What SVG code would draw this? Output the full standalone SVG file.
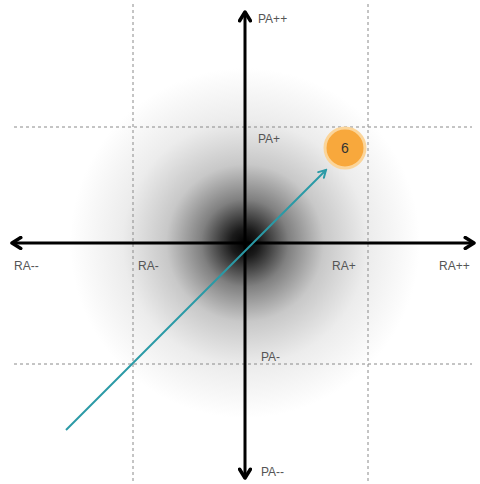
<svg xmlns="http://www.w3.org/2000/svg" width="480" height="484" viewBox="0 0 480 484">
<defs>
<radialGradient id="blur" cx="245" cy="243" r="175" gradientUnits="userSpaceOnUse">
<stop offset="0" stop-color="#000"/>
<stop offset="0.08" stop-color="#1a1a1a"/>
<stop offset="0.25" stop-color="#808080"/>
<stop offset="0.45" stop-color="#c8c8c8"/>
<stop offset="0.7" stop-color="#ececec"/>
<stop offset="1" stop-color="#fff"/>
</radialGradient>
<marker id="ah" viewBox="0 0 10 10" refX="8" refY="5" markerWidth="4.5" markerHeight="4.5" orient="auto-start-reverse" markerUnits="strokeWidth">
<path d="M1.5,1 L8,5 L1.5,9" fill="none" stroke="#000" stroke-width="2.6" stroke-linecap="round" stroke-linejoin="round"/>
</marker>
<marker id="ta" viewBox="0 0 10 10" refX="8" refY="5" markerWidth="5" markerHeight="5" orient="auto" markerUnits="strokeWidth">
<path d="M1,1 L8,5 L1,9" fill="none" stroke="#2a9aa6" stroke-width="2" stroke-linecap="round"/>
</marker>
<style>
.grid{stroke:#8a8a8a;stroke-width:1;stroke-dasharray:3 3;fill:none}
.axis{stroke:#000;stroke-width:3;fill:none}
.lbl{font-family:"Liberation Sans",Arial,sans-serif;font-size:12px;fill:#555}
</style>
</defs>
<rect width="480" height="484" fill="#fff"/>
<rect x="60" y="60" width="370" height="370" fill="url(#blur)"/>
<g id="grid">
<line class="grid" x1="133" y1="4" x2="133" y2="482"/>
<line class="grid" x1="368" y1="4" x2="368" y2="482"/>
<line class="grid" x1="14" y1="127" x2="472" y2="127"/>
<line class="grid" x1="14" y1="364" x2="472" y2="364"/>
</g>
<g id="connectors">
<line class="axis" x1="245" y1="12" x2="245" y2="478" marker-start="url(#ah)" marker-end="url(#ah)"/>
<line class="axis" x1="12" y1="243" x2="474" y2="243" marker-start="url(#ah)" marker-end="url(#ah)"/>
<line x1="66" y1="430" x2="326" y2="170" stroke="#2a9aa6" stroke-width="2" marker-end="url(#ta)"/>
</g>
<g id="labels">
<text class="lbl" x="258" y="23">PA++</text>
<text class="lbl" x="258" y="143">PA+</text>
<text class="lbl" x="261" y="361">PA-</text>
<text class="lbl" x="261" y="476">PA--</text>
<text class="lbl" x="14" y="270">RA--</text>
<text class="lbl" x="138" y="270">RA-</text>
<text class="lbl" x="332" y="270">RA+</text>
<text class="lbl" x="439" y="270">RA++</text>
</g>
<g id="node6">
<circle cx="345" cy="148" r="20" fill="#f8a83c" stroke="#fbd59a" stroke-width="3"/>
<text x="345" y="153" text-anchor="middle" font-family="Liberation Sans,Arial,sans-serif" font-size="14" fill="#333">6</text>
</g>
</svg>
